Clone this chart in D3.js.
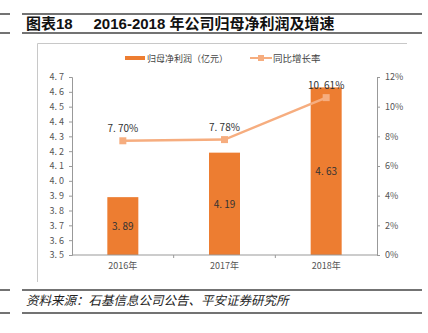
<!DOCTYPE html>
<html>
<head>
<meta charset="utf-8">
<script src="https://cdn.jsdelivr.net/npm/d3@7"></script>
<style>
body { margin: 0; background: #fff; }
svg text { font-family: "Noto Sans CJK SC", "Noto Sans", sans-serif; }
</style>
</head>
<body>
<svg id="chart" width="428" height="333"></svg>
<script>
var years = ['2016年', '2017年', '2018年'];
var profit = [3.89, 4.19, 4.63];
var growth = [7.70, 7.78, 10.61];
var profitTicks = [3.5, 3.6, 3.7, 3.8, 3.9, 4.0, 4.1, 4.2, 4.3, 4.4, 4.5, 4.6, 4.7];
var growthTicks = [0, 2, 4, 6, 8, 10, 12];

var svg = d3.select('#chart');
var barColour = '#ed7d31';
var lineColour = '#f6ad7f';

// frame lines top and bottom
[14, 33, 290, 313].forEach(function(yy) {
	svg.append('line').attr('x1', 0).attr('x2', 10).attr('y1', yy).attr('y2', yy)
		.style('stroke', '#444').style('stroke-width', 1.5);
	svg.append('line').attr('x1', 22).attr('x2', 422).attr('y1', yy).attr('y2', yy)
		.style('stroke', '#444').style('stroke-width', 1.5);
});

svg.append('text').attr('x', 26).attr('y', 29)
	.style('font-size', '15px').style('font-weight', 'bold').style('fill', '#111')
	.style('font-family', '"Liberation Sans", "Noto Sans CJK SC", sans-serif')
	.text('图表18\u00a0\u00a0\u00a0\u00a0\u00a02016-2018 年公司归母净利润及增速');

svg.append('text').attr('x', 26).attr('y', 305)
	.style('font-size', '12.5px').style('font-style', 'italic').style('fill', '#222')
	.text('资料来源：石基信息公司公告、平安证券研究所');

// inner box
svg.append('path').attr('d', 'M37.5,282V43.5H407')
	.style('fill', 'none').style('stroke', '#c8c8c8').style('stroke-width', 1);

var plotLeft = 72, plotRight = 377, plotTop = 77, plotBottom = 255;

var x = d3.scaleBand().domain(years).range([plotLeft, plotRight]);
var y = d3.scaleLinear().domain([3.5, 4.7]).range([plotBottom, plotTop]);
var y2 = d3.scaleLinear().domain([0, 12]).range([plotBottom, plotTop]);

// bars
svg.selectAll('rect.bar').data(profit).enter().append('rect')
	.attr('class', 'bar')
	.attr('x', function(d, i) { return x(years[i]) + x.bandwidth() / 2 - 15.5; })
	.attr('width', 31)
	.attr('y', function(d) { return y(d); })
	.attr('height', function(d) { return plotBottom - y(d); })
	.style('fill', barColour);

svg.selectAll('text.barlabel').data(profit).enter().append('text')
	.attr('class', 'barlabel')
	.attr('x', function(d, i) { return x(years[i]) + x.bandwidth() / 2; })
	.attr('y', function(d) { return (y(d) + plotBottom) / 2 + 4; })
	.attr('text-anchor', 'middle')
	.style('font-size', '10px').style('fill', '#333')
	.text(function(d) { return d.toFixed(2).replace('.', '. '); });

// axes
var axisStyle = function(g) {
	g.select('.domain').style('stroke', '#999');
	g.selectAll('.tick line').style('stroke', '#999');
	g.selectAll('.tick text').style('fill', '#555').style('font-size', '9px')
		.style('font-family', '"Noto Sans CJK SC", sans-serif');
};

svg.append('g').attr('transform', 'translate(' + plotLeft + ',0)')
	.call(d3.axisLeft(y).tickValues(profitTicks).tickSize(3).tickPadding(5)
		.tickFormat(function(d) { return d.toFixed(1).replace('.', '. '); }))
	.call(axisStyle);

svg.append('g').attr('transform', 'translate(' + plotRight + ',0)')
	.call(d3.axisRight(y2).tickValues(growthTicks).tickSize(3).tickPadding(5)
		.tickFormat(function(d) { return d + '%'; }))
	.call(axisStyle);

var xAxis = svg.append('g').attr('transform', 'translate(0,' + plotBottom + ')')
	.call(d3.axisBottom(x).tickSize(0).tickPadding(8))
	.call(axisStyle);
xAxis.select('.domain').attr('d', 'M' + plotLeft + ',0H' + plotRight);
xAxis.selectAll('line.sep').data(years.slice(1)).enter().append('line')
	.attr('class', 'sep')
	.attr('x1', function(d) { return x(d); }).attr('x2', function(d) { return x(d); })
	.attr('y1', 0).attr('y2', 3)
	.style('stroke', '#999');

// growth line
var line = d3.line()
	.x(function(d, i) { return x(years[i]) + x.bandwidth() / 2; })
	.y(function(d) { return y2(d); });

svg.append('path').datum(growth).attr('d', line)
	.style('fill', 'none').style('stroke', lineColour).style('stroke-width', 2.5);

svg.selectAll('rect.pt').data(growth).enter().append('rect')
	.attr('class', 'pt')
	.attr('x', function(d, i) { return x(years[i]) + x.bandwidth() / 2 - 3.5; })
	.attr('y', function(d) { return y2(d) - 3.5; })
	.attr('width', 7).attr('height', 7)
	.style('fill', lineColour);

svg.selectAll('text.ptlabel').data(growth).enter().append('text')
	.attr('class', 'ptlabel')
	.attr('x', function(d, i) { return x(years[i]) + x.bandwidth() / 2; })
	.attr('y', function(d) { return y2(d) - 9; })
	.attr('text-anchor', 'middle')
	.style('font-size', '10px').style('fill', '#333')
	.text(function(d) { return d.toFixed(2).replace('.', '. ') + '%'; });

// legend
svg.append('rect').attr('x', 125).attr('y', 56).attr('width', 20).attr('height', 4)
	.style('fill', barColour);
svg.append('text').attr('x', 147).attr('y', 61.5)
	.style('font-size', '9px').style('fill', '#444').text('归母净利润（亿元）');
svg.append('line').attr('x1', 250).attr('x2', 272).attr('y1', 58).attr('y2', 58)
	.style('stroke', lineColour).style('stroke-width', 2);
svg.append('rect').attr('x', 258).attr('y', 55).attr('width', 6).attr('height', 6)
	.style('fill', lineColour);
svg.append('text').attr('x', 273).attr('y', 61.5)
	.style('font-size', '9.5px').style('fill', '#444').text('同比增长率');
</script>
</body>
</html>
